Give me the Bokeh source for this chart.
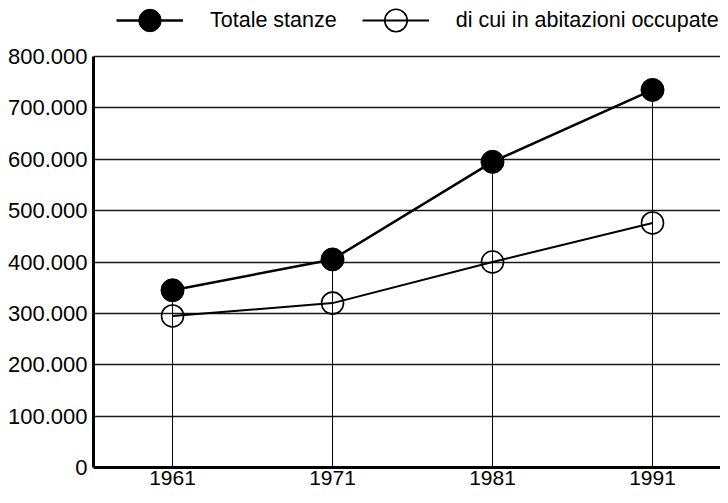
from bokeh.plotting import figure
from bokeh.models import Range1d, FixedTicker, Legend, LegendItem
from bokeh.embed import file_html
from bokeh.resources import INLINE

# ---- data ----
years = [1961, 1971, 1981, 1991]
totale_stanze = [345000, 405000, 595000, 735000]
abitazioni_occupate = [295000, 320000, 400000, 476000]
y_ticks = [0, 100000, 200000, 300000, 400000, 500000, 600000, 700000, 800000]
y_tick_labels = ["0", "100.000", "200.000", "300.000", "400.000",
                 "500.000", "600.000", "700.000", "800.000"]
x_tick_labels = ["1961", "1971", "1981", "1991"]
series_names = ["Totale stanze", "di cui in abitazioni occupate"]

FONT = "Liberation Sans"

# frame spans the full height above the x axis; the y axis is bounded to 0..800.000
FRAME_H = 467
Y_MAX = 800000 * FRAME_H / (FRAME_H - 56)

p = figure(width=720, height=495,
           min_border_left=93, min_border_right=0,
           min_border_top=0, min_border_bottom=28,
           x_range=Range1d(1956.06, 1995.25),
           y_range=Range1d(0, Y_MAX),
           output_backend="svg", toolbar_location=None,
           background_fill_color="white", border_fill_color="white")
p.outline_line_color = None

# axes
p.yaxis.ticker = FixedTicker(ticks=y_ticks)
p.yaxis.bounds = (y_ticks[0], y_ticks[-1])
p.yaxis.major_label_overrides = {t: l for t, l in zip(y_ticks, y_tick_labels)}
p.xaxis.ticker = FixedTicker(ticks=years)
p.xaxis.major_label_overrides = {t: l for t, l in zip(years, x_tick_labels)}
for ax in (p.xaxis, p.yaxis):
    ax.axis_line_color = "black"
    ax.axis_line_width = 3
    ax.major_tick_in = 0
    ax.major_tick_out = 0
    ax.minor_tick_line_color = None
    ax.major_label_text_font = FONT
    ax.major_label_text_color = "black"
p.yaxis.major_label_text_font_size = "22px"
p.xaxis.major_label_text_font_size = "21px"
p.yaxis.major_label_standoff = 6
p.xaxis.major_label_standoff = 3

p.xgrid.grid_line_color = None
p.ygrid.grid_line_color = "#1a1a1a"
p.ygrid.grid_line_width = 1.6

# drop lines from the top series down to zero
p.segment(x0=years, y0=[0] * len(years), x1=years, y1=totale_stanze,
          line_color="black", line_width=1)

l1 = p.line(years, totale_stanze, line_color="black", line_width=2.5)
m1 = p.scatter(years, totale_stanze, marker="circle", size=23,
               fill_color="black", line_color="black")
l2 = p.line(years, abitazioni_occupate, line_color="black", line_width=2)
m2 = p.scatter(years, abitazioni_occupate, marker="circle", size=22,
               fill_color=None, line_color="black", line_width=1.6)

GLYPH_H = 56
legend = Legend(items=[LegendItem(label=series_names[0], renderers=[l1, m1]),
                       LegendItem(label=series_names[1], renderers=[l2, m2])],
                orientation="horizontal",
                location=(23, FRAME_H - (20 + GLYPH_H / 2)),
                glyph_width=67, glyph_height=GLYPH_H,
                label_standoff=27, spacing=25,
                padding=0, margin=0,
                border_line_color=None, background_fill_alpha=0,
                label_text_font=FONT, label_text_font_size="21.5px",
                label_text_color="black")
p.add_layout(legend)

open("out.html", "w").write(file_html(p, INLINE))
